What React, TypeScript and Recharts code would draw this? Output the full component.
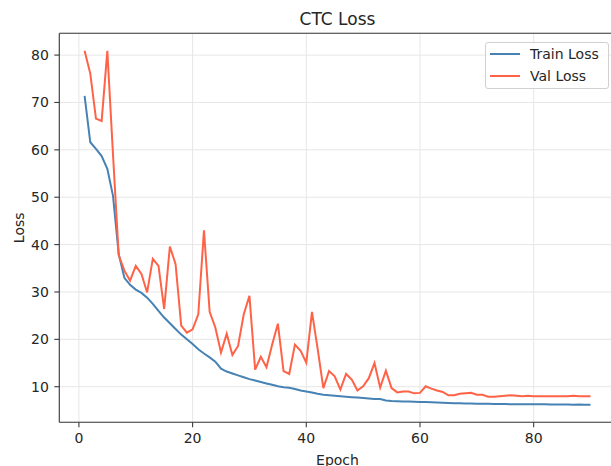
import React from 'react';
import {
  LineChart,
  Line,
  XAxis,
  YAxis,
  CartesianGrid,
  Legend,
  ReferenceLine,
} from 'recharts';

const epochs = [
  1, 2, 3, 4, 5, 6, 7, 8, 9, 10, 11, 12, 13, 14, 15, 16, 17, 18, 19, 20,
  21, 22, 23, 24, 25, 26, 27, 28, 29, 30, 31, 32, 33, 34, 35, 36, 37, 38, 39, 40,
  41, 42, 43, 44, 45, 46, 47, 48, 49, 50, 51, 52, 53, 54, 55, 56, 57, 58, 59, 60,
  61, 62, 63, 64, 65, 66, 67, 68, 69, 70, 71, 72, 73, 74, 75, 76, 77, 78, 79, 80,
  81, 82, 83, 84, 85, 86, 87, 88, 89, 90,
];

const trainLoss = [
  71.4, 61.6, 60.2, 58.7, 56.0, 50.3, 38.0, 33.0, 31.5, 30.5,
  29.8, 28.8, 27.5, 26.0, 24.6, 23.4, 22.2, 21.0, 20.0, 19.0,
  17.9, 17.0, 16.2, 15.3, 13.8, 13.2, 12.8, 12.4, 12.0, 11.6,
  11.3, 11.0, 10.7, 10.4, 10.1, 9.9, 9.8, 9.5, 9.2, 9.0,
  8.8, 8.5, 8.3, 8.2, 8.1, 8.0, 7.9, 7.8, 7.7, 7.6,
  7.5, 7.4, 7.4, 7.1, 7.0, 6.95, 6.9, 6.9, 6.85, 6.8,
  6.75, 6.7, 6.65, 6.6, 6.55, 6.5, 6.5, 6.45, 6.45, 6.4,
  6.4, 6.4, 6.35, 6.35, 6.35, 6.3, 6.3, 6.3, 6.3, 6.3,
  6.3, 6.3, 6.25, 6.25, 6.25, 6.25, 6.2, 6.25, 6.2, 6.2,
];

const valLoss = [
  80.9, 76.1, 66.6, 66.1, 80.9, 59.0, 37.8, 34.5, 32.4, 35.5,
  33.8, 29.9, 37.0, 35.5, 26.4, 39.6, 35.9, 22.9, 21.4, 22.1,
  25.3, 43.0, 25.8, 22.5, 17.2, 21.2, 16.7, 18.6, 25.3, 29.2,
  13.6, 16.3, 14.1, 18.9, 23.3, 13.3, 12.7, 18.9, 17.6, 15.1,
  25.8, 18.0, 9.7, 13.3, 12.2, 9.4, 12.7, 11.5, 9.2, 10.1,
  11.8, 15.0, 9.8, 13.4, 9.7, 8.8, 9.0, 9.0, 8.6, 8.7,
  10.1, 9.6, 9.2, 8.9, 8.2, 8.2, 8.5, 8.6, 8.7, 8.3,
  8.3, 7.9, 7.9, 8.0, 8.1, 8.2, 8.1, 8.0, 8.1, 8.0,
  8.0, 8.0, 8.0, 8.0, 8.0, 8.0, 8.1, 8.0, 8.0, 8.0,
];

const xTicks = [0, 20, 40, 60, 80];
const yTicks = [10, 20, 30, 40, 50, 60, 70, 80];
const xDomain = [-3.45, 94.45];
const yDomain = [2.49, 84.6];

const data = epochs.map((e, i) => ({
  epoch: e,
  train: trainLoss[i],
  val: valLoss[i],
}));

const FONT = '"DejaVu Sans", sans-serif';
const TEXT = '#262626';
const SPINE = '#3a3a3a';

const LegendBox = (props: any) => {
  const payload = props.payload || [];
  return (
    <div
      style={{
        width: 122,
        height: 45,
        border: '1px solid #d0d0d0',
        borderRadius: 3,
        background: 'rgba(255,255,255,0.8)',
        position: 'relative',
        fontFamily: FONT,
        fontSize: 14,
        color: TEXT,
      }}
    >
      {payload.map((p: any, i: number) => (
        <div
          key={p.value}
          style={{
            position: 'absolute',
            left: 0,
            top: 1.5 + i * 22.3,
            height: 18,
            display: 'flex',
            alignItems: 'center',
            whiteSpace: 'nowrap',
          }}
        >
          <span
            style={{
              display: 'inline-block',
              marginLeft: 4,
              width: 30,
              height: 2,
              background: p.color,
            }}
          />
          <span style={{ marginLeft: 10, lineHeight: '18px' }}>{p.value}</span>
        </div>
      ))}
    </div>
  );
};

export default function App() {
  return (
    <div
      style={{
        position: 'fixed',
        left: 0,
        top: 0,
        width: 611,
        height: 466,
        overflow: 'hidden',
        background: '#ffffff',
      }}
    >
      <div style={{ position: 'relative', width: 630, height: 466 }}>
        <LineChart
          width={630}
          height={466}
          data={data}
          margin={{ top: 33.3, right: 14.2, left: 0, bottom: 13.7 }}
        >
          <CartesianGrid stroke="#e6e6e6" strokeWidth={1} />
          <XAxis
            dataKey="epoch"
            type="number"
            domain={xDomain}
            ticks={xTicks}
            interval={0}
            height={30}
            tickSize={5}
            tickMargin={6}
            axisLine={{ stroke: SPINE, strokeWidth: 1.1 }}
            tickLine={{ stroke: SPINE, strokeWidth: 1.1 }}
            tick={{ fill: TEXT, fontSize: 14, fontFamily: FONT }}
            allowDataOverflow
          />
          <YAxis
            type="number"
            domain={yDomain}
            ticks={yTicks}
            interval={0}
            width={59.3}
            tickSize={5}
            tickMargin={5.5}
            axisLine={{ stroke: SPINE, strokeWidth: 1.1 }}
            tickLine={{ stroke: SPINE, strokeWidth: 1.1 }}
            tick={{ fill: TEXT, fontSize: 14, fontFamily: FONT }}
            allowDataOverflow
          />
          <ReferenceLine
            y={yDomain[1]}
            stroke={SPINE}
            strokeWidth={1.1}
            ifOverflow="visible"
          />
          <ReferenceLine
            x={xDomain[1]}
            stroke={SPINE}
            strokeWidth={1.1}
            ifOverflow="visible"
          />
          <Line
            type="linear"
            dataKey="train"
            name="Train Loss"
            stroke="#4682B4"
            strokeWidth={2}
            dot={false}
            isAnimationActive={false}
          />
          <Line
            type="linear"
            dataKey="val"
            name="Val Loss"
            stroke="#FF6347"
            strokeWidth={2}
            dot={false}
            isAnimationActive={false}
          />
          <Legend
            layout="vertical"
            align="center"
            verticalAlign="middle"
            content={LegendBox}
            wrapperStyle={{ left: 485, top: 42, width: 124, height: 47 }}
          />
        </LineChart>
        <svg
          width={630}
          height={466}
          style={{ position: 'absolute', left: 0, top: 0, pointerEvents: 'none' }}
        >
          <text
            x={337.5}
            y={25}
            textAnchor="middle"
            fontFamily={FONT}
            fontSize={17}
            fill={TEXT}
          >
            CTC Loss
          </text>
          <text
            x={337.5}
            y={464.5}
            textAnchor="middle"
            fontFamily={FONT}
            fontSize={14}
            fill={TEXT}
          >
            Epoch
          </text>
          <text
            x={24}
            y={227.8}
            textAnchor="middle"
            fontFamily={FONT}
            fontSize={14}
            fill={TEXT}
            transform="rotate(-90, 24, 227.8)"
          >
            Loss
          </text>
        </svg>
      </div>
    </div>
  );
}
